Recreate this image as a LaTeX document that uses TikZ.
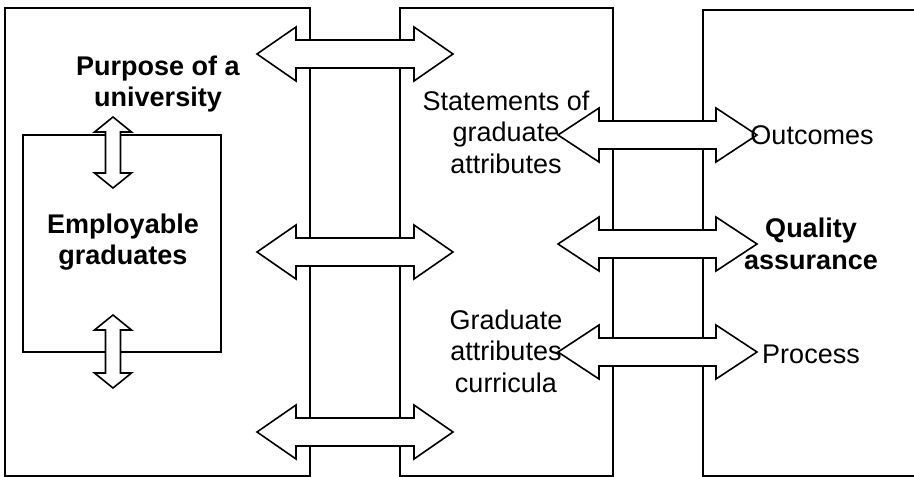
\documentclass[tikz,border=0pt]{standalone}
\usepackage{fontspec}
\setmainfont{Liberation Sans}
\newcommand\hblockarrow[4]{% left tip x, right tip x, centre y, head length
  \draw[blockarrow] (#1,#3) -- (#1+#4,#3-27) -- (#1+#4,#3-14) -- (#2-#4,#3-14)
    -- (#2-#4,#3-27) -- (#2,#3) -- (#2-#4,#3+27) -- (#2-#4,#3+14)
    -- (#1+#4,#3+14) -- (#1+#4,#3+27) -- cycle;}
\newcommand\vblockarrow[3]{% centre x, top tip y, bottom tip y
  \draw[blockarrow] (#1,#2) -- (#1+18.5,#2+15) -- (#1+7.5,#2+15) -- (#1+7.5,#3-15)
    -- (#1+18.5,#3-15) -- (#1,#3) -- (#1-18.5,#3-15) -- (#1-7.5,#3-15)
    -- (#1-7.5,#2+15) -- (#1-18.5,#2+15) -- cycle;}
\begin{document}
\begin{tikzpicture}[x=1pt,y=-1pt,
  frame/.style={draw=black,line width=1.8pt},
  blockarrow/.style={draw=black,fill=white,line width=1.6pt,line join=miter},
  lbl/.style={font=\fontsize{27}{31.5}\selectfont,align=center,inner sep=0pt},
  blbl/.style={font=\fontsize{27}{31.5}\selectfont\bfseries,align=center,inner sep=0pt}]
\useasboundingbox (0,0) rectangle (914,477);
\fill[white] (0,0) rectangle (914,477);
\begin{scope}
\clip (0,0) rectangle (914,477);
% main frames
\draw[frame] (5,8) rectangle (310,476);
\draw[frame] (400,8) rectangle (613,476);
\draw[frame] (703,10) rectangle (930,476);
% inner box
\draw[frame] (23,135) rectangle (221,352);
% block arrows between left and middle frames
\hblockarrow{257}{453}{54}{39}
\hblockarrow{257}{453}{252}{39}
\hblockarrow{257}{453}{432}{39}
% block arrows between middle and right frames
\hblockarrow{558}{757}{135}{41}
\hblockarrow{558}{757}{244}{41}
\hblockarrow{558}{757}{352}{41}
% small vertical arrows
\vblockarrow{113}{117}{188}
\vblockarrow{113}{315}{388}
\end{scope}
% labels
\node[blbl] (purpose) at (158,84) {Purpose of a\\university};
\node[blbl] (employ) at (123,242) {Employable\\graduates};
\node[lbl] (statements) at (506,132) {Statements of\\graduate\\attributes};
\node[lbl] (curricula) at (506,351) {Graduate\\attributes\\curricula};
\node[lbl] (outcomes) at (812,135) {Outcomes};
\node[blbl] (quality) at (811,244) {Quality\\assurance};
\node[lbl] (process) at (811,354) {Process};
\end{tikzpicture}
\end{document}
